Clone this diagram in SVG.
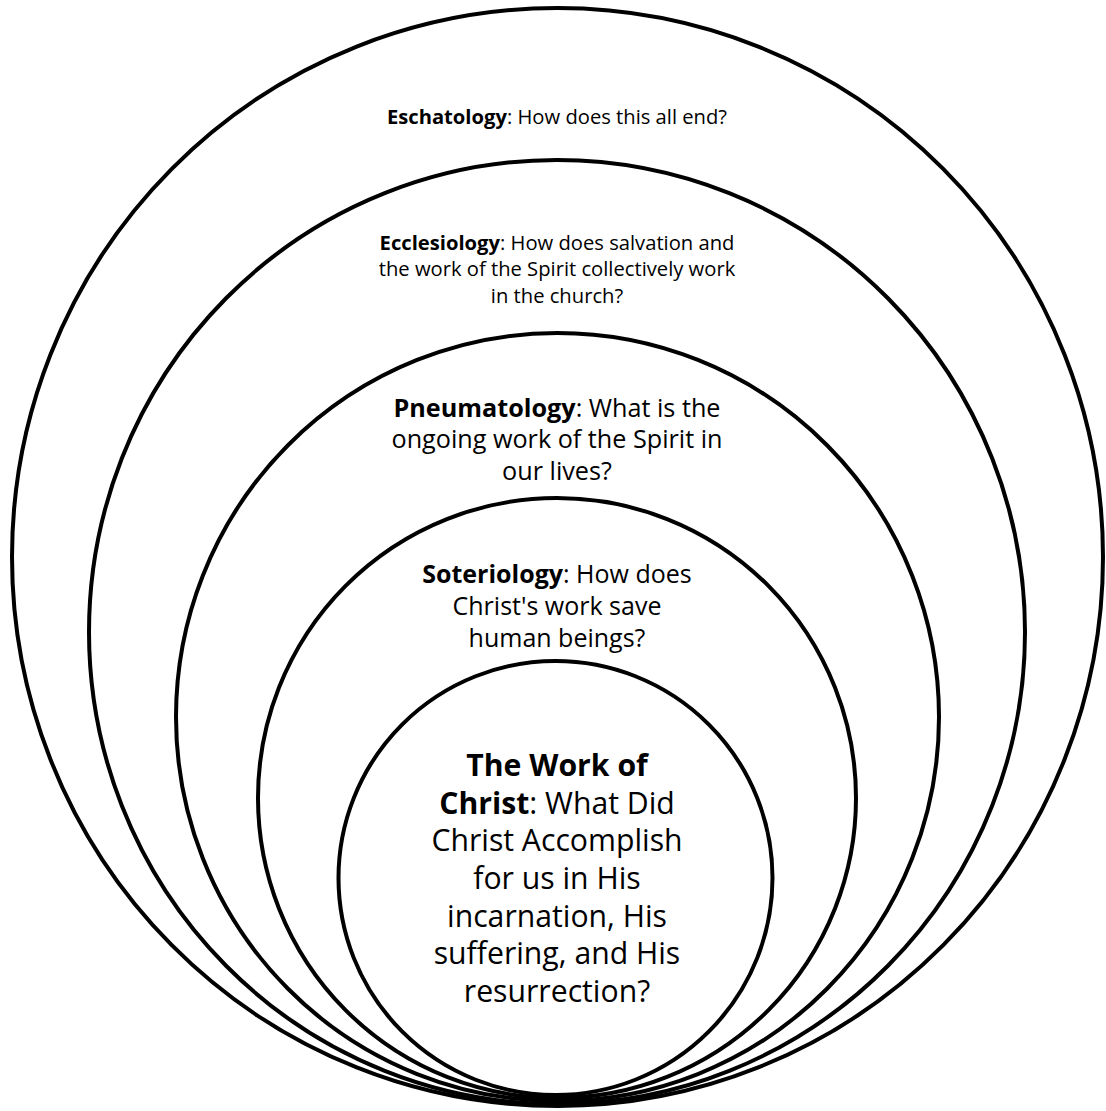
<svg xmlns="http://www.w3.org/2000/svg" width="1106" height="1111" viewBox="0 0 1106 1111">
<style>
.ring{fill:#fff;stroke:#000;stroke-width:4}
text{font-family:"Open Sans","Noto Sans","DejaVu Sans",sans-serif;fill:#000;text-anchor:middle}
.b{font-weight:bold}
.s1{font-size:20.2px}
.s2{font-size:25.2px}
.s3{font-size:25px}
.s4{font-size:30.2px}
</style>
<rect width="1106" height="1111" fill="#fff"/>
<g id="eschatology">
<ellipse class="ring" cx="557.5" cy="557" rx="545.5" ry="549"/>
<text class="s1" x="557" y="124"><tspan class="b">Eschatology</tspan>: How does this all end?</text>
</g>
<g id="ecclesiology">
<ellipse class="ring" cx="557" cy="632" rx="468" ry="472"/>
<text class="s1"><tspan x="557" y="250"><tspan class="b">Ecclesiology</tspan>: How does salvation and</tspan><tspan x="557" y="276">the work of the Spirit collectively work</tspan><tspan x="557" y="302.5">in the church?</tspan></text>
</g>
<g id="pneumatology">
<ellipse class="ring" cx="557.5" cy="717" rx="381.5" ry="384"/>
<text class="s2"><tspan x="557" y="416.5"><tspan class="b">Pneumatology</tspan>: What is the</tspan><tspan x="557" y="448">ongoing work of the Spirit in</tspan><tspan x="557" y="479.5">our lives?</tspan></text>
</g>
<g id="soteriology">
<ellipse class="ring" cx="557" cy="798" rx="299" ry="300"/>
<text class="s3"><tspan x="557" y="583"><tspan class="b">Soteriology</tspan>: How does</tspan><tspan x="557" y="615">Christ's work save</tspan><tspan x="557" y="647">human beings?</tspan></text>
</g>
<g id="work-of-christ">
<ellipse class="ring" cx="555.5" cy="878" rx="217" ry="217"/>
<text class="s4"><tspan x="557" y="776" class="b">The Work of</tspan><tspan x="557" y="814"><tspan class="b">Christ</tspan>: What Did</tspan><tspan x="557" y="851">Christ Accomplish</tspan><tspan x="557" y="889">for us in His</tspan><tspan x="557" y="927">incarnation, His</tspan><tspan x="557" y="964">suffering, and His</tspan><tspan x="557" y="1002">resurrection?</tspan></text>
</g>
<g id="connectors"/>
</svg>
